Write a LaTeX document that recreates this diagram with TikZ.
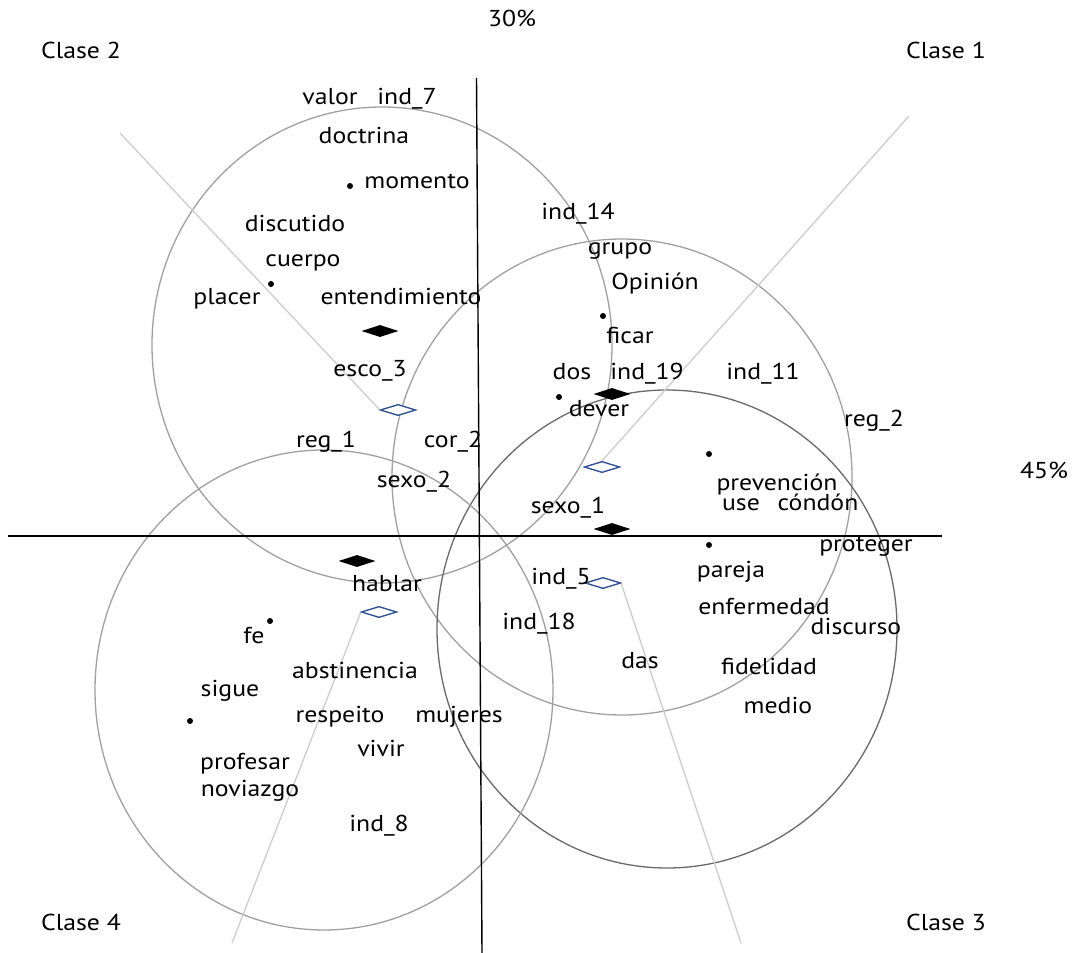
\documentclass[tikz,border=0pt]{standalone}
\usepackage{fontspec}
\setmainfont[FakeStretch=1.12]{PT Sans}
\usetikzlibrary{shapes.geometric}
\definecolor{circgray}{RGB}{160,160,160}
\definecolor{circdark}{RGB}{105,105,105}
\definecolor{raygray}{RGB}{205,205,205}
\definecolor{diablue}{RGB}{45,80,150}
\begin{document}
\begin{tikzpicture}[x=1pt,y=-1pt,
  lbl/.style={font=\fontsize{23}{27}\selectfont, inner sep=0pt, text height=16pt, text depth=4pt, anchor=center},
  circ/.style={draw=circgray, line width=1.3pt},
  circd/.style={draw=circdark, line width=1.3pt},
  ray/.style={draw=raygray, line width=1.3pt},
  axis/.style={draw=black, line width=1.4pt},
  bdia/.style={diamond, fill=black, minimum width=37pt, minimum height=12pt, inner sep=0pt},
  odia/.style={diamond, draw=diablue, fill=white, line width=1.2pt, minimum width=35pt, minimum height=11pt, inner sep=0pt},
  dotn/.style={circle, fill=black, minimum size=6pt, inner sep=0pt}
]
\useasboundingbox (0,0) rectangle (1074,953);
\fill[white] (0,0) rectangle (1074,953);

% circles
\draw[circ] (382,345) ellipse [x radius=230, y radius=238];
\draw[circ] (622,477) ellipse [x radius=230, y radius=238];
\draw[circd] (667,629) ellipse [x radius=230, y radius=239];
\draw[circ] (324,690) ellipse [x radius=229, y radius=240];

% diamonds (open)
\node[odia] (o2) at (398,410) {};
\node[odia] (o1) at (602,467) {};
\node[odia] (o3) at (603,583) {};
\node[odia] (o4) at (379,612) {};

% rays
\coordinate (r2) at (120,133);
\coordinate (r1) at (909,116);
\coordinate (r3) at (741,943);
\coordinate (r4) at (232,943);
\draw[ray] (r2) -- (o2.west);
\draw[ray] (r1) -- (o1.north);
\draw[ray] (o3.east) -- (r3);
\draw[ray] (o4.west) -- (r4);

% axes
\coordinate (vt) at (476.5,78);
\coordinate (vb) at (482,953);
\coordinate (hl) at (8,536);
\coordinate (hr) at (942,536);
\draw[axis] (vt) -- (vb);
\draw[axis] (hl) -- (hr);

% diamonds on top
\node[odia] at (o2) {};
\node[odia] at (o1) {};
\node[odia] at (o3) {};
\node[odia] at (o4) {};
\node[bdia] (b2) at (380,331) {};
\node[bdia] (b1) at (612,394) {};
\node[bdia] (b3) at (612,529) {};
\node[bdia] (b4) at (357,561) {};

% dots
\node[dotn] (dmom) at (350,186) {};
\node[dotn] (dpla) at (271,284) {};
\node[dotn] (dfic) at (603,316) {};
\node[dotn] (ddos) at (559,397) {};
\node[dotn] (dpre) at (709,454) {};
\node[dotn] (dpar) at (709,545) {};
\node[dotn] (dfe) at (270,621) {};
\node[dotn] (dsig) at (190,721) {};

% labels
\node[lbl] (t30) at (512,20) {30\%};
\node[lbl] (t45) at (1044,472) {45\%};
\node[lbl] (c2) at (81,52) {Clase 2};
\node[lbl] (c1) at (946,52) {Clase 1};
\node[lbl] (c4) at (81,924) {Clase 4};
\node[lbl] (c3) at (946,924) {Clase 3};

\node[lbl] (valor) at (330,98) {valor};
\node[lbl] (ind7) at (407,98) {ind\_7};
\node[lbl] (doctrina) at (364,137) {doctrina};
\node[lbl] (momento) at (417,182) {momento};
\node[lbl] (discutido) at (295,225) {discutido};
\node[lbl] (cuerpo) at (303,260) {cuerpo};
\node[lbl] (placer) at (227,298) {placer};
\node[lbl] (entend) at (401,298) {entendimiento};
\node[lbl] (esco3) at (370,370) {esco\_3};
\node[lbl] (reg1) at (326,441) {reg\_1};
\node[lbl] (cor2) at (453,441) {cor\_2};
\node[lbl] (sexo2) at (414,481) {sexo\_2};
\node[lbl] (hablar) at (387,585) {hablar};

\node[lbl] (ind14) at (578,213) {ind\_14};
\node[lbl] (grupo) at (620,248) {grupo};
\node[lbl] (opinion) at (655,283) {Opinión};
\node[lbl] (ficar) at (630,337) {ficar};
\node[lbl] (dos) at (572,373) {dos};
\node[lbl] (ind19) at (647,373) {ind\_19};
\node[lbl] (ind11) at (763,373) {ind\_11};
\node[lbl] (dever) at (599,410) {dever};
\node[lbl] (reg2) at (874,420) {reg\_2};
\node[lbl] (prev) at (777,484) {prevención};
\node[lbl] (use) at (741,504) {use};
\node[lbl] (condon) at (818,504) {cóndón};
\node[lbl] (sexo1) at (568,507) {sexo\_1};
\node[lbl] (proteger) at (866,545) {proteger};

\node[lbl] (ind5) at (561,578) {ind\_5};
\node[lbl] (pareja) at (731,571) {pareja};
\node[lbl] (enferm) at (764,608) {enfermedad};
\node[lbl] (discurso) at (856,628) {discurso};
\node[lbl] (ind18) at (539,623) {ind\_18};
\node[lbl] (das) at (640,662) {das};
\node[lbl] (fidel) at (769,668) {fidelidad};
\node[lbl] (medio) at (778,707) {medio};

\node[lbl] (fe) at (254,637) {fe};
\node[lbl] (abst) at (355,672) {abstinencia};
\node[lbl] (sigue) at (230,690) {sigue};
\node[lbl] (resp) at (340,716) {respeito};
\node[lbl] (mujeres) at (459,716) {mujeres};
\node[lbl] (vivir) at (381,750) {vivir};
\node[lbl] (profesar) at (245,763) {profesar};
\node[lbl] (noviazgo) at (250,790) {noviazgo};
\node[lbl] (ind8) at (379,825) {ind\_8};
\end{tikzpicture}
\end{document}
